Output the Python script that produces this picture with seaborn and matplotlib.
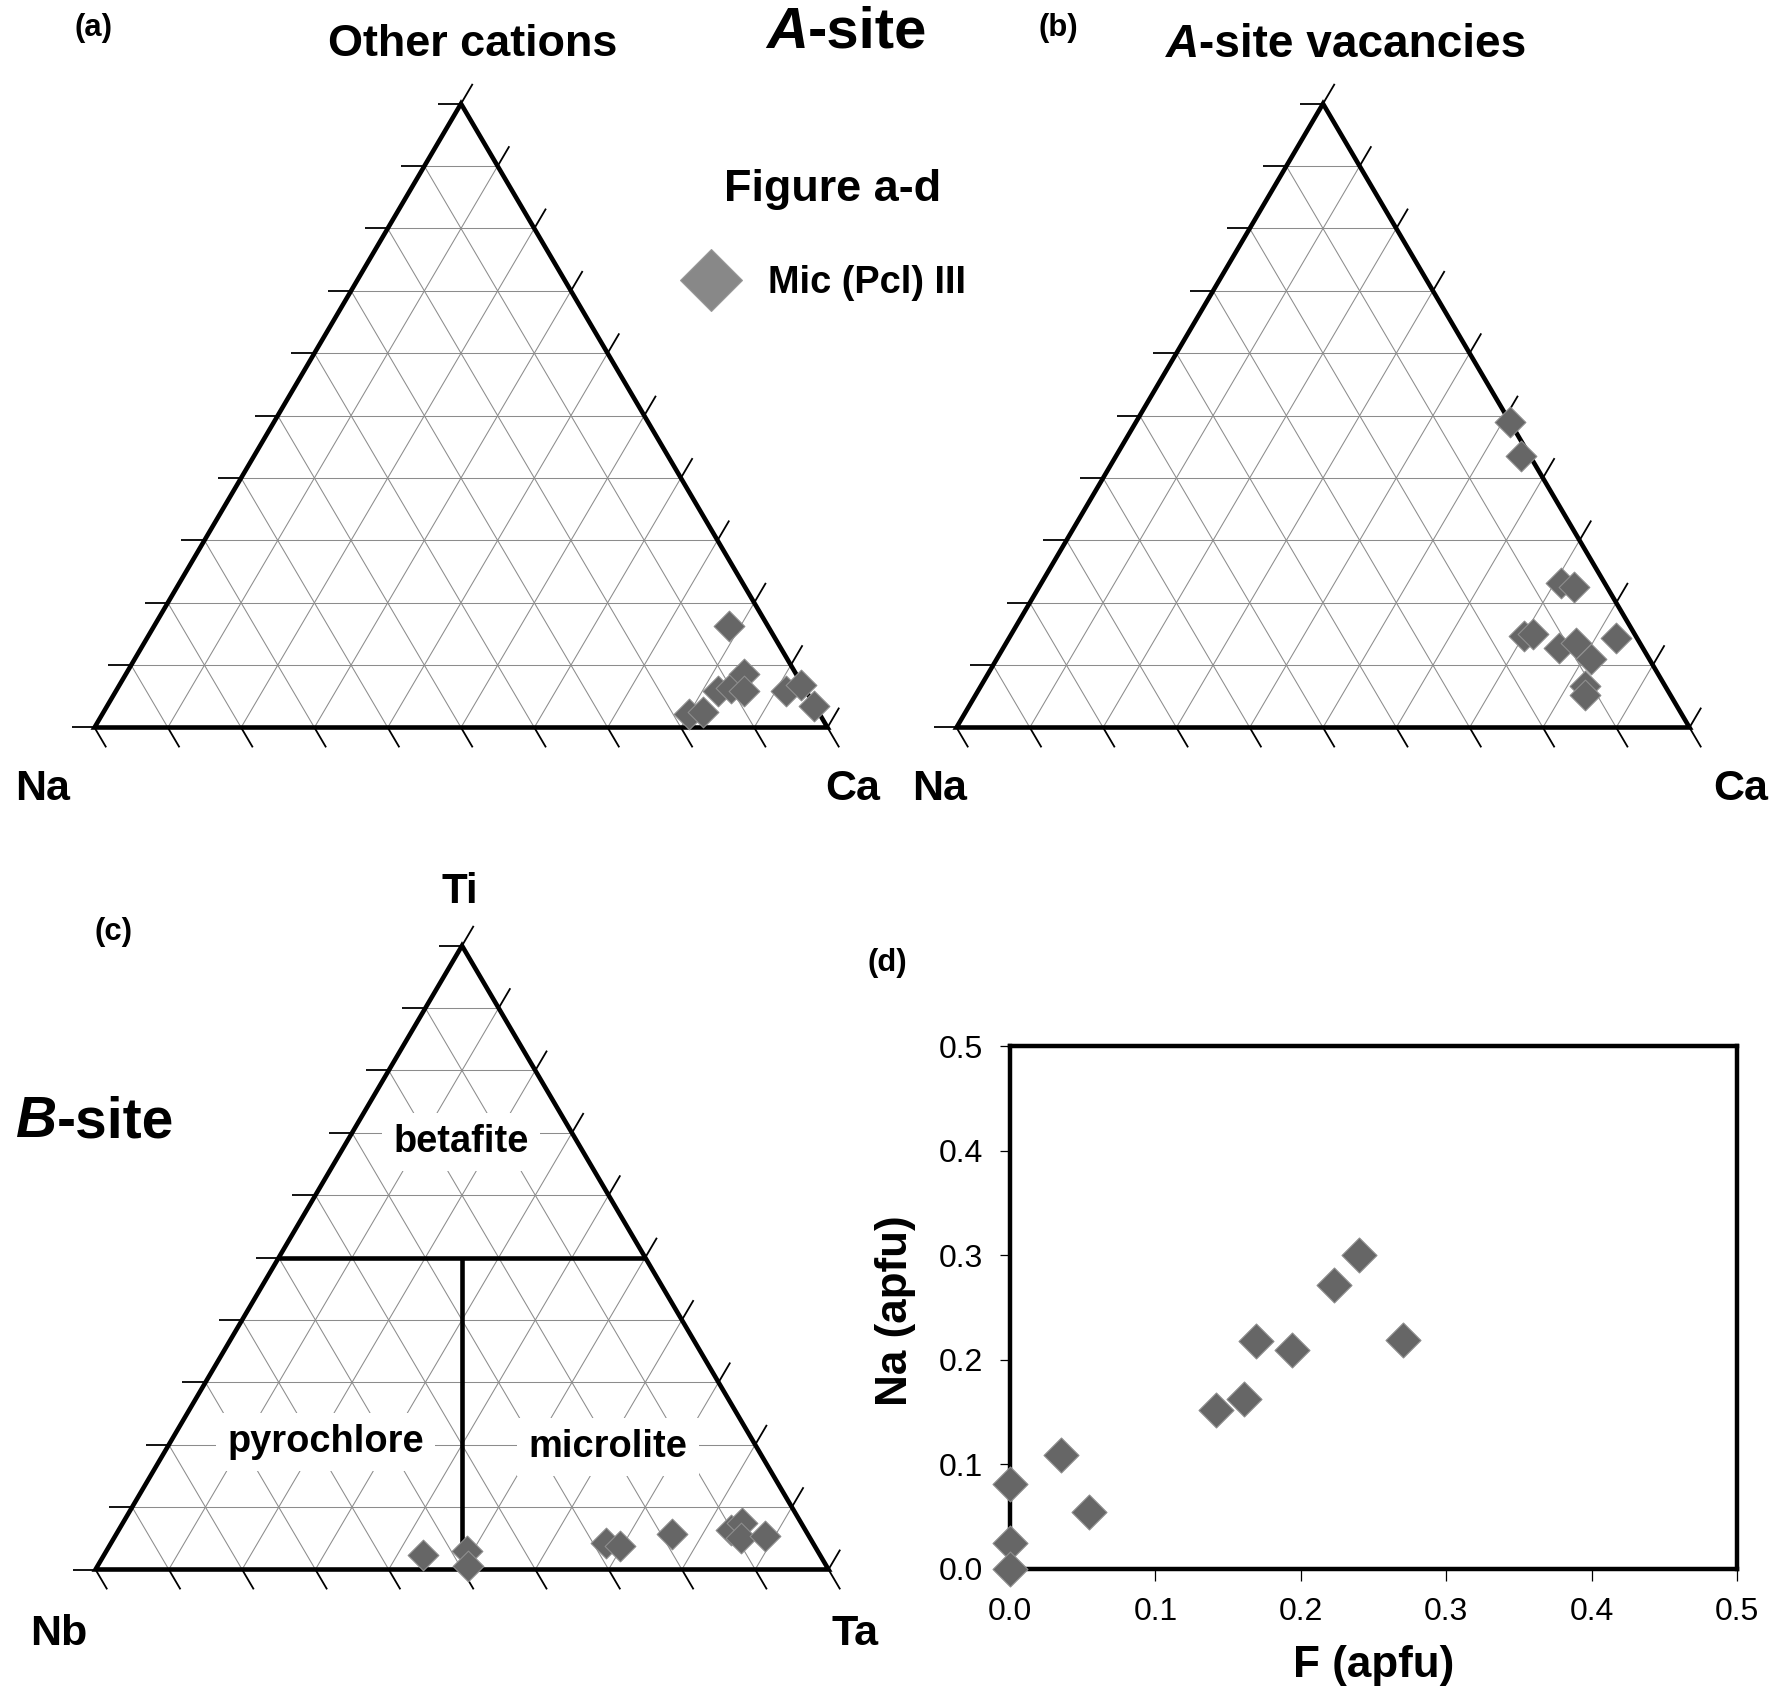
import numpy as np
import pandas as pd
import matplotlib
matplotlib.use("Agg")
import matplotlib.pyplot as plt
import seaborn as sns
from matplotlib.lines import Line2D
from matplotlib.patches import Polygon
from matplotlib.ticker import FormatStrFormatter

# ---------------- data ----------------
# (a) A-site: Na (left), Ca (right), other cations (top)
a_na    = [0.178, 0.158, 0.120, 0.100, 0.071, 0.084, 0.027, 0.002, 0.001, 0.053]
a_ca    = [0.801, 0.817, 0.821, 0.836, 0.843, 0.857, 0.914, 0.930, 0.964, 0.785]
a_other = [0.021, 0.025, 0.059, 0.064, 0.086, 0.059, 0.059, 0.068, 0.035, 0.162]

# (b) A-site: Na (left), Ca (right), A-site vacancies (top)
b_na  = [0.000, 0.012, 0.059, 0.045, 0.153, 0.138, 0.114, 0.087, 0.079, 0.029, 0.109, 0.117]
b_ca  = [0.511, 0.552, 0.709, 0.729, 0.701, 0.712, 0.759, 0.777, 0.811, 0.828, 0.824, 0.831]
b_vac = [0.489, 0.436, 0.232, 0.226, 0.146, 0.150, 0.127, 0.136, 0.110, 0.143, 0.067, 0.052]

# (c) B-site: Nb (left), Ta (right), Ti (top)
c_nb = [0.542, 0.478, 0.489, 0.283, 0.266, 0.185, 0.101, 0.081, 0.095, 0.060]
c_ta = [0.435, 0.493, 0.506, 0.675, 0.696, 0.758, 0.836, 0.844, 0.855, 0.887]
c_ti = [0.023, 0.029, 0.005, 0.042, 0.038, 0.057, 0.063, 0.075, 0.050, 0.053]

# (d) F vs Na (apfu)
d_f  = [0.000, 0.000, 0.000, 0.035, 0.054, 0.142, 0.161, 0.169, 0.194, 0.223, 0.240, 0.270]
d_na = [0.081, 0.024, 0.000, 0.109, 0.054, 0.152, 0.162, 0.218, 0.209, 0.271, 0.300, 0.219]

d_ticks = [0.0, 0.1, 0.2, 0.3, 0.4, 0.5]
series_label = "Mic (Pcl) III"

# ---------------- style ----------------
sns.set_style("white")
plt.rcParams["font.family"] = ["Liberation Sans", "DejaVu Sans"]
plt.rcParams["text.color"] = "black"
plt.rcParams["axes.labelcolor"] = "black"
plt.rcParams["xtick.color"] = "black"
plt.rcParams["ytick.color"] = "black"

FIG_W, FIG_H = 1772, 1694
fig = plt.figure(figsize=(FIG_W / 100, FIG_H / 100), dpi=100)
fig.patch.set_facecolor("white")

TRI_W = 733.0
HR = 0.851
GRID = "#8c8c8c"
MARK = "#666666"
MEDGE = "#8e8e8e"
PAD = 70


def pt(px):
    return px * 0.72


def fx(x):
    return x / FIG_W


def fy(y):
    return 1 - y / FIG_H


def tern_axes(xl, yb, pad=PAD):
    W = TRI_W
    H = W * HR
    ax = fig.add_axes([fx(xl - pad), fy(yb + pad), (W + 2 * pad) / FIG_W, (H + 2 * pad) / FIG_H])
    ax.axis("off")
    ax.patch.set_alpha(0)
    return ax


def fix_limits(ax, pad=PAD):
    ax.set_xlim(-pad / TRI_W, 1 + pad / TRI_W)
    ax.set_ylim(-pad / TRI_W, HR + pad / TRI_W)
    ax.set_xlabel("")
    ax.set_ylabel("")
    ax.axis("off")


def draw_ternary(ax):
    for i in range(1, 10):
        c = i / 10
        ax.plot([c / 2, 1 - c / 2], [c * HR, c * HR], color=GRID, lw=0.75, zorder=1)
        ax.plot([1 - c, (1 - c) / 2], [0, (1 - c) * HR], color=GRID, lw=0.75, zorder=1)
        ax.plot([c, c + (1 - c) / 2], [0, (1 - c) * HR], color=GRID, lw=0.75, zorder=1)
    L = 23 / TRI_W
    n = np.hypot(0.5, HR)
    dxr, dyr = 0.5 / n * L, HR / n * L
    for k in range(11):
        t = k / 10
        x0, y0 = t / 2, t * HR
        ax.plot([x0 - L, x0], [y0, y0], color="black", lw=1.3, zorder=2, solid_capstyle="butt")
        x1, y1 = 1 - t / 2, t * HR
        ax.plot([x1, x1 + dxr], [y1, y1 + dyr], color="black", lw=1.3, zorder=2, solid_capstyle="butt")
        ax.plot([t, t + dxr], [0, -dyr], color="black", lw=1.3, zorder=2, solid_capstyle="butt")
    ax.add_patch(Polygon([[0, 0], [1, 0], [0.5, HR]], closed=True, fill=False,
                         edgecolor="black", lw=3.3, joinstyle="miter", zorder=4))


def tern_df(left, right, top):
    l = np.asarray(left, float)
    r = np.asarray(right, float)
    t = np.asarray(top, float)
    s = l + r + t
    return pd.DataFrame({"x": (r + t / 2) / s, "y": t / s * HR})


def plot_points(ax, df, s=245):
    sns.scatterplot(data=df, x="x", y="y", ax=ax, marker="D", s=s, color=MARK,
                    edgecolor=MEDGE, linewidth=0.8, zorder=5, clip_on=False, legend=False)


def ftext(x, y, s, size_px, ha="center", va="baseline", **kw):
    kw.setdefault("fontweight", "bold")
    fig.text(fx(x), fy(y), s, fontsize=pt(size_px), ha=ha, va=va, color="black", **kw)


# ---------------- (a) ----------------
A_XL, A_YB = 94.5, 727.5
ax_a = tern_axes(A_XL, A_YB)
draw_ternary(ax_a)
plot_points(ax_a, tern_df(a_na, a_ca, a_other))
fix_limits(ax_a)

# ---------------- (b) ----------------
B_XL, B_YB = 956.5, 727.5
ax_b = tern_axes(B_XL, B_YB)
draw_ternary(ax_b)
plot_points(ax_b, tern_df(b_na, b_ca, b_vac))
fix_limits(ax_b)

# ---------------- (c) ----------------
C_XL, C_YB = 95.5, 1569.5
ax_c = tern_axes(C_XL, C_YB)
draw_ternary(ax_c)
ax_c.plot([0.25, 0.75], [0.5 * HR, 0.5 * HR], color="black", lw=3.3, zorder=4, solid_capstyle="butt")
ax_c.plot([0.5, 0.5], [0, 0.5 * HR], color="black", lw=3.3, zorder=4, solid_capstyle="butt")
plot_points(ax_c, tern_df(c_nb, c_ta, c_ti))
fix_limits(ax_c)


def c_text(px, py, s):
    ax_c.text((px - C_XL) / TRI_W, (C_YB - py) / TRI_W, s, fontsize=pt(38), fontweight="bold",
              ha="center", va="baseline", zorder=3, color="black",
              bbox=dict(boxstyle="square,pad=0.3", facecolor="white", edgecolor="none"))


c_text(461, 1152, "betafite")
c_text(325.5, 1452, "pyrochlore")
c_text(608, 1457, "microlite")

# ---------------- (d) ----------------
ax_d = fig.add_axes([fx(1010), fy(1568.5), (1737 - 1010) / FIG_W, (1568.5 - 1046) / FIG_H])
sns.scatterplot(x=d_f, y=d_na, ax=ax_d, marker="D", s=317, color=MARK, edgecolor=MEDGE,
                linewidth=0.8, zorder=5, clip_on=False, legend=False)
ax_d.set_xlim(0, 0.5)
ax_d.set_ylim(0, 0.5)
ax_d.set_xticks(d_ticks)
ax_d.set_yticks(d_ticks)
ax_d.xaxis.set_major_formatter(FormatStrFormatter("%.1f"))
ax_d.yaxis.set_major_formatter(FormatStrFormatter("%.1f"))
for sp in ax_d.spines.values():
    sp.set_linewidth(3.2)
    sp.set_color("black")
    sp.set_zorder(3)
ax_d.tick_params(axis="both", labelsize=pt(32), width=0.9, colors="black", direction="out",
                 bottom=True, left=True, pad=12)
ax_d.tick_params(axis="x", length=8.6)
ax_d.tick_params(axis="y", length=7.2)
ax_d.grid(False)
ax_d.set_xlabel("F (apfu)", fontsize=pt(44), fontweight="bold", va="center", color="black")
ax_d.set_ylabel("Na (apfu)", fontsize=pt(44), fontweight="bold", va="center", color="black")
ax_d.xaxis.set_label_coords(0.5, (1568.5 - 1665) / 522.5)
ax_d.yaxis.set_label_coords((896 - 1010) / 727.0, 0.493)

# ---------------- texts ----------------
ftext(93, 36, "(a)", 31)
ftext(473, 56, "Other cations", 45)
ftext(808, 48, "A", 58, ha="right", fontstyle="italic")
ftext(808, 48, "-site", 58, ha="left")
ftext(1058, 36, "(b)", 31)
ftext(1199, 57, "A", 46, ha="right", fontstyle="italic")
ftext(1199, 57, "-site vacancies", 46, ha="left")
ftext(833, 201, "Figure a-d", 45)

ftext(43, 800, "Na", 43)
ftext(853, 800, "Ca", 43)
ftext(940, 800, "Na", 43)
ftext(1741, 800, "Ca", 43)

ftext(460, 903, "Ti", 42)
ftext(114, 940, "(c)", 31)
ftext(57, 1137, "B", 57, ha="right", fontstyle="italic")
ftext(57, 1137, "-site", 57, ha="left")
ftext(59, 1645, "Nb", 43)
ftext(855.5, 1645, "Ta", 43)
ftext(887, 971, "(d)", 31)

# legend
handle = Line2D([0], [0], marker="D", linestyle="none", markersize=32,
                markerfacecolor="#888888", markeredgecolor="#999999", markeredgewidth=0.8,
                label=series_label)
leg = fig.legend(handles=[handle], loc="center left", bbox_to_anchor=(fx(672.5), fy(283)),
                 bbox_transform=fig.transFigure, frameon=False,
                 prop={"weight": "bold", "size": pt(38)}, handlelength=2.0, handletextpad=0.51,
                 borderpad=0, borderaxespad=0)
for t in leg.get_texts():
    t.set_color("black")

fig.savefig("out.png", dpi=100, facecolor="white")
